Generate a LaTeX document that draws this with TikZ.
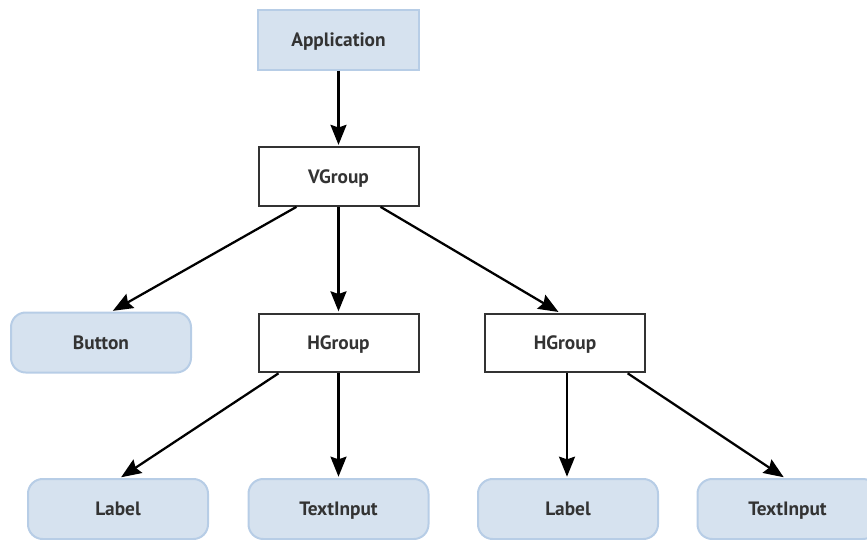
\documentclass[tikz,border=0pt]{standalone}
\usepackage{fontspec}
\setmainfont{PT Sans}
\usepackage{xcolor}
\usetikzlibrary{arrows.meta, positioning}

\definecolor{boxfill}{HTML}{D6E2EF}
\definecolor{boxline}{HTML}{B7CDE6}
\definecolor{txtgray}{HTML}{333333}

\begin{document}
\begin{tikzpicture}[
    x=0.75pt, y=-0.75pt,
    root/.style={rectangle, draw=boxline, fill=boxfill, line width=1.5pt, minimum width=121pt, minimum height=45pt, align=center, text height=10pt, text depth=0pt, font=\fontsize{14.5}{16}\selectfont\bfseries, text=txtgray},
    group/.style={rectangle, draw=txtgray, fill=white, line width=1.5pt, minimum width=120pt, minimum height=44pt, align=center, text height=10pt, text depth=0pt, font=\fontsize{14.5}{16}\selectfont\bfseries, text=txtgray},
    widget/.style={rectangle, rounded corners=11pt, draw=boxline, fill=boxfill, line width=1.5pt, minimum width=135pt, minimum height=45pt, align=center, text height=10pt, text depth=0pt, font=\fontsize{14.5}{16}\selectfont\bfseries, text=txtgray},
    arrow/.style={-{Stealth[length=15pt, width=12pt, inset=2pt]}, line width=1.7pt, shorten >=1pt},
]
\useasboundingbox (0,0) rectangle (867,539);

% Top of the tree
\node[root] (app) at (338.5,39.5) {Application};
\node[group] (vgroup) at (338.5,176.5) {VGroup};

% Middle row
\node[widget] (button) at (101,342.5) {Button};
\node[group] (hgroupa) at (338.5,343) {HGroup};
\node[group] (hgroupb) at (565,343) {HGroup};

% Bottom row
\node[widget] (labela) at (118,509) {Label};
\node[widget] (inputa) at (338.5,509) {TextInput};
\node[widget] (labelb) at (568,509) {Label};
\node[widget] (inputb) at (787.5,509) {TextInput};

% Arrows
\draw[arrow] (app) -- (vgroup);
\draw[arrow] ([xshift=-31.5pt]vgroup.south) -- ([xshift=8pt]button.north);
\draw[arrow] (vgroup) -- (hgroupa);
\draw[arrow] ([xshift=31.5pt]vgroup.south) -- ([xshift=-4pt]hgroupb.north);
\draw[arrow] ([xshift=-45pt]hgroupa.south) -- ([xshift=1.5pt]labela.north);
\draw[arrow] (hgroupa) -- (inputa);
\draw[arrow] ([xshift=1.5pt]hgroupb.south) -- ([xshift=-0.75pt]labelb.north);
\draw[arrow] ([xshift=47pt]hgroupb.south) -- ([xshift=-2pt]inputb.north);

\end{tikzpicture}
\end{document}
